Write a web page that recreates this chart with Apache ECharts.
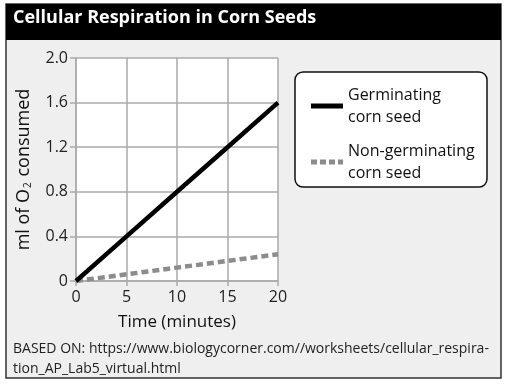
<!DOCTYPE html>
<html><head><meta charset="utf-8">
<script src="https://cdn.jsdelivr.net/npm/echarts@6/dist/echarts.min.js"></script>
<style>html,body{margin:0;padding:0;background:#fff}#c{width:508px;height:389px}</style>
</head><body><div id="c"></div>
<script>
const timeMinutes = [0, 5, 10, 15, 20];
const germinating = [0, 0.4, 0.8, 1.2, 1.6];
const nonGerminating = [0, 0.06, 0.12, 0.18, 0.24];
const yTicks = [0, 0.4, 0.8, 1.2, 1.6, 2.0];
const seriesNames = ['Germinating\ncorn seed', 'Non-germinating\ncorn seed'];
const titleText = 'Cellular Respiration in Corn Seeds';
const sourceText = 'BASED ON: https://www.biologycorner.com//worksheets/cellular_respira-\ntion_AP_Lab5_virtual.html';

const FONT = '"Open Sans"';
const chart = echarts.init(document.getElementById('c'), null, {renderer: 'canvas'});
chart.setOption({
  backgroundColor: '#ffffff',
  animation: false,
  graphic: [
    {type: 'rect', z: -10, shape: {x: 6, y: 4, width: 495, height: 374}, style: {fill: '#efefef', stroke: '#333', lineWidth: 1.5}},
    {type: 'rect', z: -9, shape: {x: 6, y: 4, width: 495, height: 36}, style: {fill: '#000'}},
    {type: 'text', z: 5, left: 13, top: 9, style: {text: titleText, fill: '#fff', font: 'bold 18px ' + FONT}},
    {type: 'text', z: 5, left: 13, top: 339, style: {text: sourceText, fill: '#222', font: '14px ' + FONT, lineHeight: 20}},
    {type: 'rect', z: -5, shape: {x: 295, y: 72, width: 192, height: 115, r: 8}, style: {fill: '#fff', stroke: '#111', lineWidth: 1.5}}
  ],
  grid: {left: 76, top: 58, width: 202, height: 223, backgroundColor: '#fff', show: true, borderWidth: 0},
  legend: {
    left: 306, top: 79, orient: 'vertical', itemGap: 12, itemWidth: 32, itemHeight: 14,
    textStyle: {fontFamily: FONT, fontSize: 16, color: '#111', lineHeight: 22},
    data: [
      {name: seriesNames[0], icon: 'path://M0,0H32V5H0Z'},
      {name: seriesNames[1], icon: 'path://M0,0H6V5H0ZM9,0H15V5H9ZM18,0H24V5H18ZM27,0H32V5H27Z'}
    ]
  },
  xAxis: {
    type: 'value', min: 0, max: 20, interval: 5,
    name: 'Time (minutes)', nameLocation: 'middle', nameGap: 33,
    nameTextStyle: {fontFamily: FONT, fontSize: 17, color: '#111'},
    axisLine: {show: true, lineStyle: {color: '#aaa', width: 1.5}},
    axisTick: {show: true, length: 5, lineStyle: {color: '#aaa', width: 1.5}},
    axisLabel: {fontFamily: FONT, fontSize: 16, color: '#222', margin: 8},
    splitLine: {show: true, lineStyle: {color: '#aaa', width: 1.5}}
  },
  yAxis: {
    type: 'value', min: 0, max: 2.0, interval: 0.4,
    name: '{a|ml of O}{s|2}{a| consumed}', nameLocation: 'middle', nameGap: 43, nameRotate: 90,
    nameTextStyle: {rich: {
      a: {fontFamily: FONT, fontSize: 18, color: '#111'},
      s: {fontFamily: FONT, fontSize: 10, color: '#111', padding: [9, 1, 0, 1]}
    }},
    axisLine: {show: true, lineStyle: {color: '#aaa', width: 1.5}},
    axisTick: {show: true, length: 6, lineStyle: {color: '#aaa', width: 1.5}},
    axisLabel: {fontFamily: FONT, fontSize: 16, color: '#222', margin: 8,
      formatter: v => { const t = yTicks.find(x => Math.abs(x - v) < 1e-9); return t === 0 ? '0' : t.toFixed(1); }},
    splitLine: {show: true, lineStyle: {color: '#aaa', width: 1.5}}
  },
  series: [
    {name: seriesNames[0], type: 'line', symbol: 'none', z: 3,
     data: timeMinutes.map((t, i) => [t, germinating[i]]),
     lineStyle: {color: '#000', width: 4.5}, itemStyle: {color: '#000'}},
    {name: seriesNames[1], type: 'line', symbol: 'none', z: 2,
     data: timeMinutes.map((t, i) => [t, nonGerminating[i]]),
     lineStyle: {color: '#8c8c8c', width: 4.5, type: [7, 4]}, itemStyle: {color: '#8c8c8c'}}
  ]
});
</script></body></html>
